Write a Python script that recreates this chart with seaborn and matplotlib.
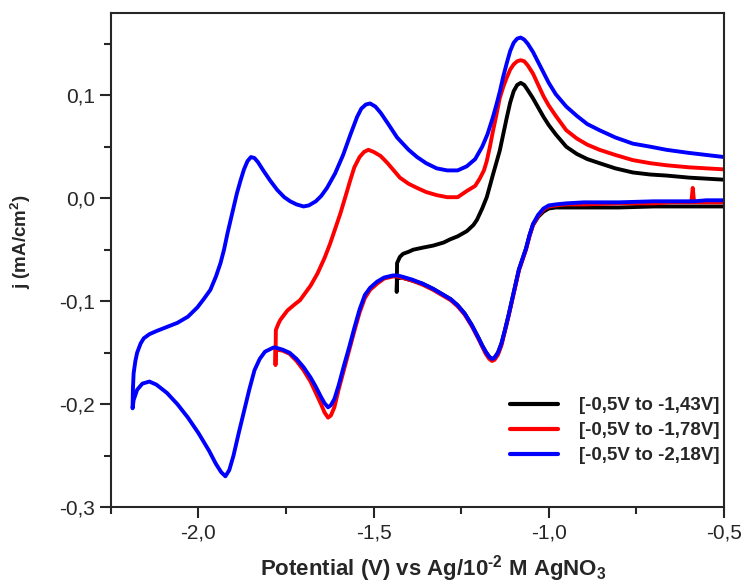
import numpy as np
import pandas as pd
import matplotlib
matplotlib.use("Agg")
import matplotlib.pyplot as plt
import matplotlib.ticker as mticker
import seaborn as sns

# cyclic voltammograms (V vs Ag/AgNO3, j in mA/cm2)
# cathodic sweep, common potential grid from -0.5 V downwards
cath_v = [-0.50, -0.55, -0.585, -0.589, -0.593, -0.65, -0.70, -0.80, -0.90, -0.95,
          -0.98, -1.00, -1.015, -1.03, -1.045, -1.055, -1.065, -1.075, -1.085, -1.095,
          -1.105, -1.115, -1.125, -1.135, -1.145, -1.155, -1.162, -1.17, -1.18, -1.19,
          -1.20, -1.22, -1.24, -1.26, -1.28, -1.30, -1.33, -1.36, -1.39, -1.42,
          -1.433, -1.445, -1.47, -1.49, -1.51, -1.525, -1.54, -1.555, -1.57, -1.585,
          -1.60, -1.612, -1.622, -1.63, -1.64, -1.65, -1.665, -1.68, -1.70, -1.72,
          -1.74, -1.76, -1.78, -1.786, -1.81, -1.825, -1.84, -1.855, -1.87, -1.885,
          -1.90, -1.912, -1.923, -1.935, -1.95, -1.97, -2.00, -2.03, -2.06, -2.09,
          -2.12, -2.14, -2.16, -2.175, -2.185, -2.188]

blue_cath_j = [-0.002, -0.002, -0.003, -0.003, -0.003, -0.003, -0.003, -0.004, -0.004, -0.005,
               -0.006, -0.007, -0.010, -0.016, -0.025, -0.036, -0.049, -0.059, -0.069, -0.084,
               -0.099, -0.114, -0.128, -0.141, -0.150, -0.155, -0.156, -0.154, -0.149, -0.143,
               -0.136, -0.123, -0.112, -0.104, -0.098, -0.094, -0.088, -0.083, -0.079, -0.076,
               -0.075, -0.075, -0.077, -0.081, -0.087, -0.094, -0.108, -0.126, -0.145, -0.163,
               -0.182, -0.195, -0.201, -0.203, -0.199, -0.193, -0.183, -0.174, -0.164, -0.156,
               -0.150, -0.147, -0.145, -0.145, -0.149, -0.156, -0.167, -0.186, -0.207, -0.228,
               -0.250, -0.264, -0.270, -0.266, -0.258, -0.245, -0.228, -0.213, -0.200, -0.189,
               -0.181, -0.178, -0.180, -0.186, -0.196, -0.204]

red_cath_j = [-0.004, -0.004, -0.004, 0.010, -0.004, -0.004, -0.005, -0.005, -0.006, -0.006,
              -0.007, -0.008, -0.011, -0.017, -0.026, -0.037, -0.050, -0.060, -0.070, -0.085,
              -0.100, -0.115, -0.129, -0.143, -0.152, -0.157, -0.158, -0.156, -0.151, -0.144,
              -0.137, -0.124, -0.113, -0.105, -0.099, -0.095, -0.089, -0.084, -0.080, -0.077,
              -0.076, -0.076, -0.078, -0.083, -0.089, -0.097, -0.111, -0.129, -0.148, -0.167,
              -0.186, -0.203, -0.211, -0.213, -0.208, -0.200, -0.189, -0.178, -0.167, -0.158,
              -0.151, -0.148, -0.147]

black_cath_j = [-0.008, -0.008, -0.008, -0.008, -0.008, -0.008, -0.008, -0.009, -0.009, -0.009,
                -0.009, -0.010, -0.013, -0.018, -0.026, -0.036, -0.049, -0.059, -0.069, -0.084,
                -0.099, -0.114, -0.128, -0.141, -0.150, -0.155, -0.156, -0.154, -0.149, -0.143,
                -0.136, -0.123, -0.112, -0.104, -0.098, -0.094, -0.088, -0.083, -0.080, -0.077,
                -0.078]

# anodic (return) sweeps back to -0.5 V
black_an_v = [-1.434, -1.433, -1.425, -1.416, -1.40, -1.387, -1.36, -1.33, -1.30, -1.282,
              -1.26, -1.234, -1.215, -1.205, -1.19, -1.177, -1.168, -1.16, -1.15, -1.14,
              -1.13, -1.12, -1.11, -1.10, -1.09, -1.08, -1.07, -1.06, -1.045, -1.03,
              -1.015, -1.00, -0.98, -0.95, -0.92, -0.89, -0.855, -0.81, -0.76, -0.71,
              -0.664, -0.60, -0.55, -0.50]
black_an_j = [-0.091, -0.063, -0.057, -0.054, -0.052, -0.050, -0.048, -0.046, -0.043, -0.040,
              -0.037, -0.032, -0.026, -0.021, -0.010, 0.001, 0.012, 0.022, 0.034, 0.046,
              0.062, 0.078, 0.093, 0.104, 0.110, 0.112, 0.110, 0.105, 0.097, 0.088,
              0.079, 0.071, 0.062, 0.050, 0.043, 0.038, 0.034, 0.029, 0.025, 0.023,
              0.022, 0.020, 0.019, 0.018]

red_an_v = [-1.780, -1.779, -1.772, -1.766, -1.746, -1.725, -1.71, -1.695, -1.68, -1.66,
            -1.64, -1.624, -1.61, -1.595, -1.58, -1.567, -1.555, -1.54, -1.527, -1.515,
            -1.50, -1.48, -1.46, -1.44, -1.425, -1.40, -1.376, -1.35, -1.32, -1.29,
            -1.26, -1.234, -1.21, -1.197, -1.185, -1.177, -1.168, -1.16, -1.15, -1.14,
            -1.13, -1.12, -1.11, -1.10, -1.09, -1.08, -1.07, -1.06, -1.045, -1.03,
            -1.015, -1.00, -0.98, -0.95, -0.92, -0.89, -0.855, -0.81, -0.76, -0.71,
            -0.664, -0.60, -0.55, -0.50]
red_an_j = [-0.162, -0.128, -0.122, -0.118, -0.109, -0.103, -0.099, -0.092, -0.085, -0.073,
            -0.058, -0.044, -0.030, -0.015, 0.002, 0.017, 0.030, 0.040, 0.045, 0.047,
            0.045, 0.041, 0.034, 0.026, 0.020, 0.014, 0.010, 0.006, 0.003, 0.001,
            0.001, 0.007, 0.012, 0.019, 0.027, 0.036, 0.050, 0.064, 0.080, 0.097,
            0.108, 0.117, 0.125, 0.130, 0.133, 0.134, 0.133, 0.129, 0.121, 0.110,
            0.099, 0.090, 0.080, 0.066, 0.058, 0.052, 0.047, 0.042, 0.037, 0.034,
            0.032, 0.030, 0.029, 0.028]

blue_an_v = [-2.187, -2.185, -2.18, -2.175, -2.165, -2.156, -2.14, -2.12, -2.09, -2.06,
             -2.03, -2.003, -1.985, -1.966, -1.95, -1.937, -1.927, -1.917, -1.908, -1.90,
             -1.89, -1.88, -1.87, -1.86, -1.85, -1.84, -1.83, -1.815, -1.795, -1.775,
             -1.755, -1.738, -1.72, -1.70, -1.685, -1.665, -1.65, -1.633, -1.61, -1.587,
             -1.567, -1.547, -1.535, -1.522, -1.51, -1.495, -1.48, -1.46, -1.433, -1.40,
             -1.376, -1.35, -1.32, -1.29, -1.26, -1.234, -1.21, -1.19, -1.175, -1.16,
             -1.15, -1.14, -1.13, -1.12, -1.11, -1.10, -1.09, -1.08, -1.07, -1.06,
             -1.045, -1.03, -1.015, -1.00, -0.98, -0.95, -0.92, -0.89, -0.855, -0.81,
             -0.76, -0.71, -0.664, -0.60, -0.55, -0.50]
blue_an_j = [-0.185, -0.170, -0.158, -0.150, -0.141, -0.136, -0.132, -0.129, -0.125, -0.121,
             -0.115, -0.106, -0.098, -0.089, -0.076, -0.063, -0.050, -0.034, -0.021, -0.009,
             0.005, 0.017, 0.028, 0.036, 0.040, 0.039, 0.035, 0.027, 0.017, 0.008,
             0.001, -0.003, -0.006, -0.008, -0.007, -0.003, 0.002, 0.010, 0.024, 0.042,
             0.061, 0.079, 0.087, 0.091, 0.092, 0.089, 0.083, 0.073, 0.059, 0.047,
             0.040, 0.034, 0.029, 0.027, 0.027, 0.031, 0.038, 0.050, 0.062, 0.078,
             0.090, 0.103, 0.118, 0.131, 0.143, 0.151, 0.155, 0.156, 0.154, 0.150,
             0.142, 0.132, 0.122, 0.112, 0.101, 0.089, 0.080, 0.072, 0.066, 0.059,
             0.053, 0.050, 0.047, 0.044, 0.042, 0.040]

labels = ["[-0,5V to -1,43V]", "[-0,5V to -1,78V]", "[-0,5V to -2,18V]"]
colors = ["#000000", "#ff0000", "#0000ff"]

series = [
    (labels[0], black_cath_j, black_an_v, black_an_j),
    (labels[1], red_cath_j, red_an_v, red_an_j),
    (labels[2], blue_cath_j, blue_an_v, blue_an_j),
]
frames = []
for lab, cj, av, aj in series:
    v = cath_v[:len(cj)] + av
    j = cj + aj
    frames.append(pd.DataFrame({"V": v, "j": j, "scan": lab}))
df = pd.concat(frames, ignore_index=True)

sns.set_style("ticks")
plt.rcParams["font.family"] = ["Liberation Sans", "DejaVu Sans"]
plt.rcParams["mathtext.fontset"] = "custom"
plt.rcParams["mathtext.rm"] = "Liberation Sans:bold"
plt.rcParams["mathtext.bf"] = "Liberation Sans:bold"
plt.rcParams["mathtext.default"] = "bf"

fig = plt.figure(figsize=(7.44, 5.83), dpi=100)
ax = fig.add_axes([0.149, 0.130, 0.824, 0.848])

sns.lineplot(data=df, x="V", y="j", hue="scan", palette=colors, sort=False,
             estimator=None, linewidth=2.8, ax=ax)

ax.set_xlim(-2.25, -0.5)
ax.set_ylim(-0.3, 0.18)
ax.xaxis.set_major_locator(mticker.MultipleLocator(0.5))
ax.xaxis.set_minor_locator(mticker.MultipleLocator(0.25))
ax.yaxis.set_major_locator(mticker.MultipleLocator(0.1))
ax.yaxis.set_minor_locator(mticker.MultipleLocator(0.05))
comma = mticker.FuncFormatter(lambda val, pos: f"{val:.1f}".replace(".", ","))
ax.xaxis.set_major_formatter(comma)
ax.yaxis.set_major_formatter(comma)
ax.tick_params(which="major", direction="out", length=8, width=1.5, labelsize=15)
ax.tick_params(which="minor", direction="out", length=5, width=1.5)
for s in ax.spines.values():
    s.set_linewidth(1.5)

ax.set_xlabel(r"Potential (V) vs Ag/10$^{\text{-}2}$ M AgNO$_3$", fontsize=16,
              fontweight="bold")
ax.set_ylabel(r"j (mA/cm$^2$)", fontsize=13.5, fontweight="bold")
ax.xaxis.set_label_coords(0.526, -0.092)
ax.yaxis.set_label_coords(-0.127, 0.538)

leg = ax.legend(loc="lower right", bbox_to_anchor=(1.005, 0.072), borderaxespad=0,
                frameon=False, handlelength=2.56, handletextpad=1.1, labelspacing=0.42,
                prop={"weight": "bold", "size": 13.5})
for h in leg.get_lines():
    h.set_linewidth(3)

fig.savefig("out.png", dpi=100)
